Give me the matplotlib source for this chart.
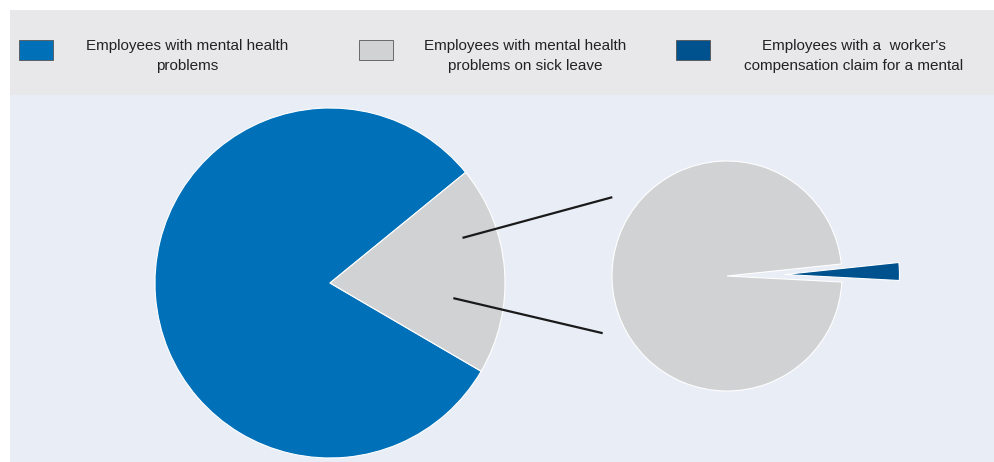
import numpy as np
import matplotlib.pyplot as plt
from matplotlib.patches import Rectangle

# Share of employees (percent)
main_labels = ["Employees with mental health\nproblems",
               "Employees with mental health\nproblems on sick leave"]
main_values = [80.7, 19.3]
detail_labels = ["Employees with mental health\nproblems on sick leave",
                 "Employees with a  worker's\ncompensation claim for a mental"]
detail_values = [97.5, 2.5]

legend_labels = ["Employees with mental health\nproblems",
                 "Employees with mental health\nproblems on sick leave",
                 "Employees with a  worker's\ncompensation claim for a mental"]

BLUE = "#0070b8"
GREY = "#d1d2d4"
DARK_BLUE = "#00528f"
LEGEND_BG = "#e8e8ea"
PLOT_BG = "#e9edf6"

plt.rcParams['font.family'] = ['Liberation Sans', 'DejaVu Sans']

W, H = 995, 462
fig = plt.figure(figsize=(W / 100, H / 100), dpi=100)
ax = fig.add_axes([0, 0, 1, 1])

# pixel-like coordinates, y measured from the bottom
big_c, big_r = (330, H - 283), 175
small_c, small_r = (727, H - 276), 115

wedge_style = dict(edgecolor="white", linewidth=0.8)

ax.pie(main_values, colors=[BLUE, GREY], startangle=39.2, counterclock=True,
       center=big_c, radius=big_r, wedgeprops=wedge_style, frame=True)
# explode is in data units, so scale it by the radius
ax.pie(detail_values, colors=[GREY, DARK_BLUE], startangle=6, counterclock=True,
       center=small_c, radius=small_r, explode=[0, 0.5 * small_r],
       wedgeprops=wedge_style, frame=True)


def polar(c, r, deg):
    a = np.deg2rad(deg)
    return c[0] + r * np.cos(a), c[1] + r * np.sin(a)


# connectors from the sick-leave slice to the breakdown pie
for (r1, a1), (r2, a2) in [((0.80, 18.8), (1.21, 145.5)),
                           ((0.71, -7.0), (1.19, 204.7))]:
    x1, y1 = polar(big_c, r1 * big_r, a1)
    x2, y2 = polar(small_c, r2 * small_r, a2)
    ax.plot([x1, x2], [y1, y2], color="#1a1a1a", lw=1.6, solid_capstyle="butt", zorder=3)

# background panels
ax.add_patch(Rectangle((10, 0), W - 10, H - 95, facecolor=PLOT_BG, edgecolor="none", zorder=0))
ax.add_patch(Rectangle((10, H - 95), W - 10, 85, facecolor=LEGEND_BG, edgecolor="none", zorder=0))

# legend row
legend_colors = [BLUE, GREY, DARK_BLUE]
patch_x = [19, 359, 676]
text_x = [187, 525, 854]
for px, tx, col, lab in zip(patch_x, text_x, legend_colors, legend_labels):
    ax.add_patch(Rectangle((px, H - 60), 34, 20, facecolor=col, edgecolor="#555555",
                           linewidth=0.6, zorder=2))
    ax.text(tx, H - 56, lab, ha="center", va="center", multialignment="center",
            fontsize=11, color="#222222", linespacing=1.5)

ax.set_xlim(0, W)
ax.set_ylim(0, H)
ax.set_aspect("equal")
ax.axis("off")

fig.savefig("out.png", dpi=100, facecolor="white")
